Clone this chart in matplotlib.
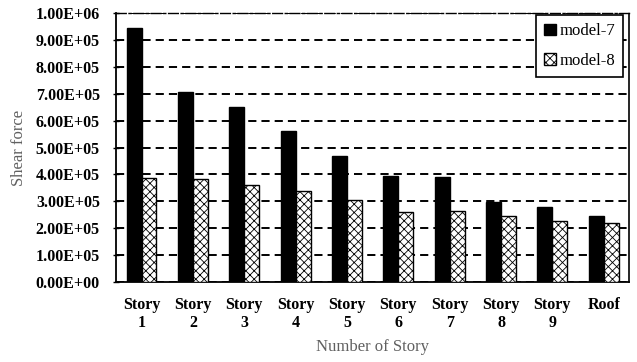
import numpy as np
import matplotlib
matplotlib.use('Agg')
import matplotlib.pyplot as plt
from matplotlib.ticker import MultipleLocator

# ----------------------------------------------------------------------
# DATA
# ----------------------------------------------------------------------
stories = ['Story\n1', 'Story\n2', 'Story\n3', 'Story\n4', 'Story\n5',
           'Story\n6', 'Story\n7', 'Story\n8', 'Story\n9', 'Roof']
model7 = [9.45e5, 7.07e5, 6.52e5, 5.63e5, 4.68e5, 3.93e5, 3.90e5, 2.97e5, 2.78e5, 2.46e5]
model8 = [3.86e5, 3.82e5, 3.62e5, 3.37e5, 3.04e5, 2.62e5, 2.65e5, 2.45e5, 2.27e5, 2.21e5]

# ----------------------------------------------------------------------
# SETTINGS
# ----------------------------------------------------------------------
plt.rcParams['font.family'] = ['Liberation Serif', 'DejaVu Serif']
plt.rcParams['hatch.linewidth'] = 0.6
width = 0.29
grey = '#606060'
fontsize = 11.5

def sci_fmt(v, pos):
    # Excel style 0.00E+00 labels
    if v <= 0:
        return '0.00E+00'
    e = int(np.floor(np.log10(v) + 1e-9))
    return '%.2fE+%02d' % (v / 10**e, e)

fig = plt.figure(figsize=(6.37, 3.62), dpi=100)
ax = fig.add_axes([0.182, 0.221, 0.806, 0.743])

x = np.arange(len(stories))
ax.bar(x - width/2, model7, width, color='black', edgecolor='black', lw=1,
       label='model-7', zorder=3)
ax.bar(x + width/2, model8, width, color='white', edgecolor='black', lw=1,
       hatch='xxxx', label='model-8', zorder=3)

ax.set_xlim(-0.5, len(stories) - 0.5)
ax.set_ylim(0, 1.0e6)
ax.yaxis.set_major_locator(MultipleLocator(1e5))
ax.yaxis.set_major_formatter(sci_fmt)

ax.set_xticks(x)
ax.set_xticklabels(stories, fontweight='bold', fontsize=fontsize, linespacing=1.2)
for lab in ax.get_yticklabels():
    lab.set_fontweight('bold')
    lab.set_fontsize(fontsize)

ax.tick_params(axis='x', length=0, pad=10.5)
ax.tick_params(axis='y', length=5, width=1, direction='inout', pad=9)

ax.grid(axis='y', color='black', linestyle=(0, (4.2, 2.6)), lw=1.4, zorder=0)

# frame: solid left/bottom, dash-dot top, dotted right
ax.spines['left'].set_linewidth(1.3)
ax.spines['bottom'].set_linewidth(1.3)
ax.spines['top'].set_linestyle((0, (7, 2, 1.5, 2)))
ax.spines['top'].set_linewidth(1.0)
ax.spines['right'].set_linestyle((0, (1, 1)))
ax.spines['right'].set_linewidth(1.2)

ax.set_ylabel('Shear force', color=grey, fontsize=12, labelpad=6)
ax.set_xlabel('Number of Story', color=grey, fontsize=12, labelpad=6)

leg = ax.legend(loc='upper right', bbox_to_anchor=(0.988, 0.993), borderaxespad=0,
                fontsize=12, fancybox=False, framealpha=1, edgecolor='black',
                handlelength=0.7, handleheight=0.7, handletextpad=0.2,
                labelspacing=0.8, borderpad=0.5)
leg.get_frame().set_linewidth(1.2)
leg.set_zorder(5)

plt.savefig('out.png', dpi=100)
